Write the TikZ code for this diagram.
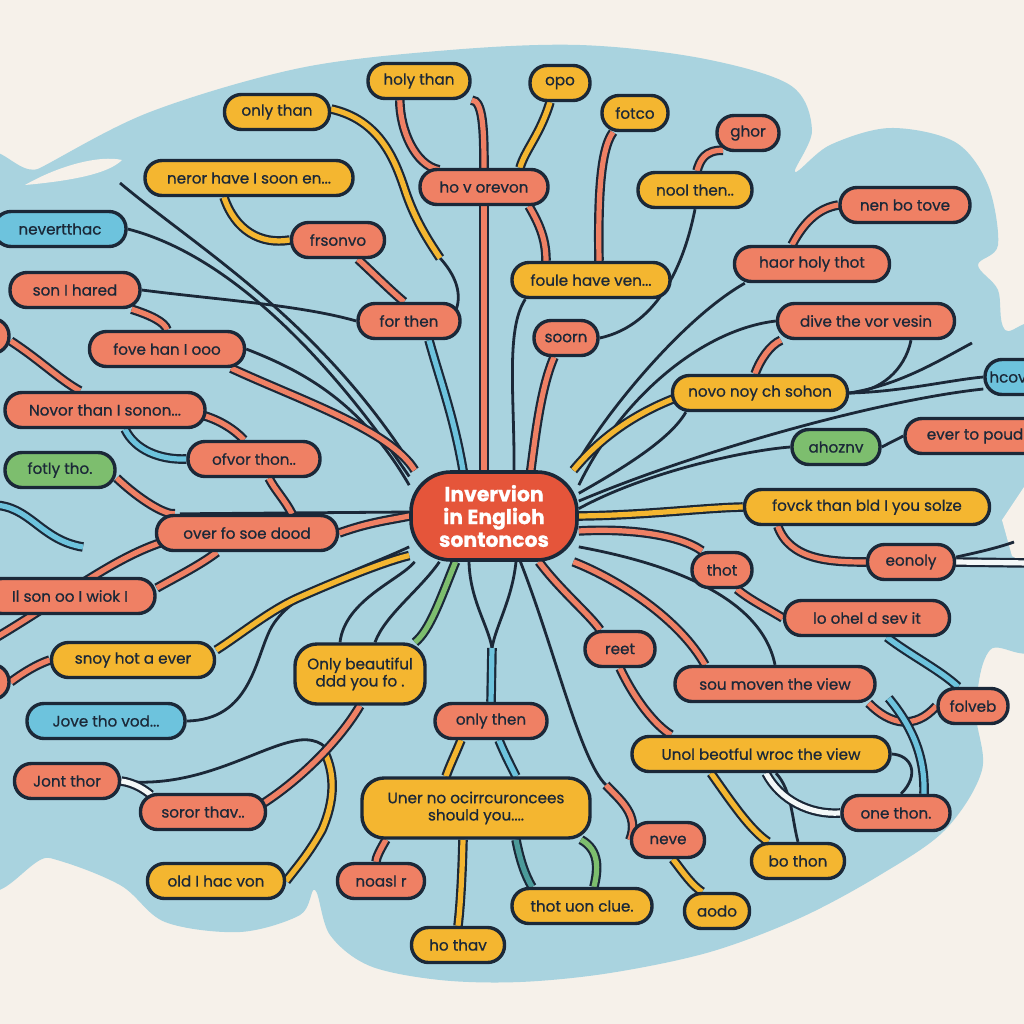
\documentclass[tikz,border=0pt]{standalone}
\usepackage{fontspec}
\setmainfont{Poppins}[FakeBold=0.7]
\usetikzlibrary{calc}
\definecolor{cream}{HTML}{F6F1EA}
\definecolor{blob}{HTML}{A9D3DF}
\definecolor{crl}{HTML}{EF8064}
\definecolor{ylw}{HTML}{F4B630}
\definecolor{blu}{HTML}{6DC3DD}
\definecolor{grn}{HTML}{7DBE6E}
\definecolor{ctr}{HTML}{E5553A}
\definecolor{navy}{HTML}{1B2838}
\definecolor{wht}{HTML}{F4F8F8}
\definecolor{tealb}{HTML}{4B9A9A}
\pgfdeclarelayer{back}
\pgfdeclarelayer{edges}
\pgfsetlayers{back,edges,main}
\newcommand\mnode[6]{\node[pill,fill=#5,minimum width=#4*0.5pt] (#1) at (#2,#3) {#6};}
\begin{document}
\begin{tikzpicture}[x=0.5pt,y=-0.5pt,
  pill/.style={draw=navy,line width=1.7pt,rounded corners=8.5pt,minimum height=17.5pt,
    inner xsep=2pt,inner ysep=1pt,text=navy,font=\fontsize{7.6}{9}\selectfont},
  pilltwo/.style={pill,align=center,rounded corners=11pt,minimum height=30pt,font=\fontsize{7.6}{8.6}\selectfont},
  band/.style={draw=navy,line width=1.1pt,double=#1,double distance=2.6pt},
  wire/.style={draw=navy,line width=1.4pt}]
\useasboundingbox (0,0) rectangle (1024,1024);
\begin{pgfonlayer}{back}
\fill[cream] (0,0) rectangle (1024,1024);
\fill[blob] plot[smooth cycle,tension=0.55] coordinates {(-30,205) (40,168) (150,112) (300,68) (450,50) (580,45) (700,58) (790,85) (812,130) (795,172) (830,145) (890,128) (955,142) (988,185) (998,245) (978,265) (998,290) (1005,330) (1045,345) (1045,630) (990,650) (976,710) (982,770) (945,830) (880,875) (800,918) (710,952) (610,973) (520,982) (440,980) (370,966) (330,935) (315,890) (300,915) (240,932) (165,922) (120,885) (50,858) (-30,845)};
\fill[cream] (25,185) .. controls (60,165) and (100,155) .. (122,160) .. controls (110,172) and (80,180) .. cycle;
\fill[cream] (1030,478) -- (1002,520) -- (1012,556) -- (1030,566) -- cycle;
\end{pgfonlayer}

% centre
\node[draw=navy,line width=1.8pt,fill=ctr,rounded corners=20pt,minimum width=83pt,minimum height=44pt,
  align=center,text=white,font=\bfseries\fontsize{10.2}{11.4}\selectfont,inner sep=1pt] (C) at (494,516) {Invervion\\in Englioh\\sontoncos};

\mnode{holy}{419}{81}{102}{ylw}{holy than}
\mnode{opo}{560}{83}{60}{ylw}{opo}
\mnode{onlythan}{277}{112}{105}{ylw}{only than}
\mnode{fotco}{635}{113}{66}{ylw}{fotco}
\mnode{ghor}{748}{133}{62}{crl}{ghor}
\mnode{neror}{249}{178}{208}{ylw}{neror have I soon en...}
\mnode{hovor}{484}{187}{128}{crl}{ho v orevon}
\mnode{nool}{695}{190}{114}{ylw}{nool then..}
\mnode{nevert}{60}{229}{132}{blu}{nevertthac}
\mnode{frsonvo}{338}{240}{93}{crl}{frsonvo}
\mnode{nenbo}{905}{205}{130}{crl}{nen bo tove}
\mnode{sonI}{75}{290}{130}{crl}{son I hared}
\mnode{forthen}{409}{321}{102}{crl}{for then}
\mnode{foule}{591}{280}{158}{ylw}{foule have ven...}
\mnode{haor}{812}{264}{155}{crl}{haor holy thot}
\mnode{soorn}{566}{338}{64}{crl}{soorn}
\mnode{diva}{866}{321}{177}{crl}{dive the vor vesin}
\mnode{fove}{167}{349}{155}{crl}{fove han I ooo}
\mnode{novo}{760}{393}{175}{ylw}{novo noy ch sohon}
\mnode{hcov}{1030}{377}{90}{blu}{hcov\hspace*{22pt}}
\mnode{novor}{105}{410}{200}{crl}{Novor than I sonon...}
\mnode{ofvor}{254}{459}{132}{crl}{ofvor thon..}
\mnode{ahoz}{836}{447}{88}{grn}{ahoznv}
\mnode{ever}{975}{436}{140}{crl}{ever to poud}
\mnode{fotly}{60}{470}{110}{grn}{fotly tho.}
\mnode{fovck}{867}{507}{245}{ylw}{fovck than bld I you solze}
\mnode{overfo}{247}{533}{181}{crl}{over fo soe dood}
\mnode{thot}{722}{570}{60}{crl}{thot}
\mnode{eonoly}{911}{562}{87}{crl}{eonoly}
\mnode{ilson}{70}{596}{170}{crl}{Il son oo I wiok I}
\mnode{lodhel}{867}{618}{165}{crl}{lo ohel d sev it}
\mnode{snoy}{133}{660}{163}{ylw}{snoy hot a ever}
\mnode{reet}{620}{649}{70}{crl}{reet}
\mnode{jove}{106}{721}{158}{blu}{Jove tho vod...}
\mnode{onlythen}{491}{721}{112}{crl}{only then}
\mnode{sou}{775}{684}{200}{crl}{sou moven the view}
\mnode{folveb}{973}{706}{70}{crl}{folveb}
\mnode{unol}{761}{754}{258}{ylw}{Unol beotful wroc the view}
\mnode{jont}{67}{781}{105}{crl}{Jont thor}
\mnode{soror}{203}{812}{125}{crl}{soror thav..}
\mnode{onethon}{896}{813}{108}{crl}{one thon.}
\mnode{neve}{668}{840}{73}{crl}{neve}
\mnode{bothon}{798}{861}{93}{ylw}{bo thon}
\mnode{oldI}{216}{881}{137}{ylw}{old I hac von}
\mnode{noasl}{381}{881}{87}{crl}{noasl r}
\mnode{thotuon}{582}{906}{140}{ylw}{thot uon clue.}
\mnode{aodo}{717}{911}{65}{ylw}{aodo}
\mnode{hothav}{458}{945}{93}{ylw}{ho thav}
\mnode{pa}{-8}{336}{34}{crl}{}
\mnode{pb}{-8}{682}{34}{crl}{}
\node[pilltwo,fill=ylw,minimum width=65pt] (onlyb) at (360,674) {Only beautiful\\ddd you fo .};
\node[pilltwo,fill=ylw,minimum width=114pt] (uner) at (476,808) {Uner no ocirrcuroncees\\should you....};

\coordinate (fr1) at (972,343);
\coordinate (fr2) at (1030,563);
\coordinate (fr3) at (1014,542);
\coordinate (fr4) at (120,183);
\coordinate (fl1) at (-8,640);
\coordinate (fl2) at (-8,505);
\coordinate (fl3) at (83,547);
\coordinate (yj) at (492,648);
\coordinate (ybr) at (325,753);
\coordinate (ge) at (440,258);
\coordinate (nj) at (606,785);

\begin{pgfonlayer}{edges}
% navy wires
\draw[wire] (nool.south) .. controls (685,260) and (660,325) .. (soorn.east);
\draw[wire] ($(foule.south west)+(15,0)$) .. controls (505,330) and (515,400) .. ($(C.north)+(20,6)$);
\draw[wire] ($(haor.south west)+(12,0)$) .. controls (680,320) and (600,420) .. (C.30);
\draw[wire] (diva.west) .. controls (700,330) and (620,400) .. (C.20);
\draw[wire] ($(novo.south west)+(15,0)$) .. controls (670,440) and (620,470) .. (C.15);
\draw[wire] ($(diva.south)+(45,0)$) .. controls (905,370) and (880,392) .. (novo.east);
\draw[wire] (novo.east) .. controls (900,392) and (950,380) .. (hcov.west);
\draw[wire] (novo.east) .. controls (900,385) and (940,360) .. (fr1);
\draw[wire] (C.10) .. controls (700,450) and (880,400) .. ($(hcov.west)+(0,12)$);
\draw[wire] (C.5) .. controls (650,470) and (750,450) .. (ahoz.west);
\draw[wire] (ahoz.east) -- (ever.west);
\draw[wire] ($(eonoly.east)+(0,-5)$) .. controls (980,552) and (1000,547) .. (fr3);
\draw[wire] (sonI.east) .. controls (220,300) and (300,305) .. (forthen.west);
\draw[wire] (nevert.east) .. controls (230,255) and (330,360) .. (C.155);
\draw[wire] (fr4) .. controls (200,250) and (320,320) .. (C.150);
\draw[wire] (fove.east) .. controls (300,370) and (360,400) .. (C.160);
\draw[wire] ($(overfo.north west)+(25,0)$) -- ($(C.west)+(0,-4)$);
\draw[wire] (jove.east) .. controls (250,720) and (255,660) .. (270,630) .. controls (290,590) and (360,570) .. (C.-160);
\draw[wire] (C.-140) .. controls (420,590) and (385,615) .. ($(onlyb.north)+(15,0)$);
\draw[wire] (C.-150) .. controls (400,580) and (345,600) .. ($(onlyb.north)+(-20,0)$);
\draw[wire] ($(C.south)+(-25,0)$) .. controls (470,600) and (488,625) .. (yj);
\draw[wire] ($(C.south)+(22,0)$) .. controls (512,600) and (496,625) .. (yj);
\draw[wire] (C.-60) .. controls (555,650) and (580,760) .. (nj);
\draw[wire] (C.-20) .. controls (650,560) and (760,590) .. (sou.north);
\draw[wire] (jont.east) .. controls (200,790) and (260,745) .. (300,740) .. controls (318,738) and (330,748) .. (ybr);
\draw[wire] (unol.east) .. controls (912,755) and (920,775) .. ($(onethon.north)+(5,0)$);
\draw[wire] ($(unol.south)+(15,0)$) .. controls (792,790) and (792,820) .. (bothon.north);
\draw[wire] (ge) .. controls (460,280) and (462,300) .. ($(forthen.east)+(-8,-6)$);

% bands
\draw[band=crl] (holy.-135) .. controls (400,130) and (415,165) .. ($(hovor.north)+(-45,2)$);
\draw[band=crl] (holy.-20) .. controls (483,100) and (484,130) .. (hovor.north);
\draw[band=crl] (hovor.south) -- ($(hovor.south |- C.north)+(0,8)$);
\draw[band=ylw] ($(opo.south)+(-10,0)$) .. controls (540,135) and (525,150) .. ($(hovor.north)+(36,0)$);
\draw[band=crl] ($(hovor.south)+(45,0)$) .. controls (540,225) and (546,240) .. ($(foule.north)+(-45,0)$);
\draw[band=crl] ($(fotco.south)+(-22,0)$) .. controls (600,150) and (598,200) .. ($(foule.north)+(8,0)$);
\draw[band=crl] ($(ghor.south)+(-25,-2)$) .. controls (705,150) and (700,160) .. ($(nool.north)+(2,0)$);
\draw[band=crl] ($(soorn.south)+(-12,0)$) .. controls (540,390) and (535,440) .. ($(C.north)+(36,6)$);
\draw[band=crl] ($(haor.north)+(-20,0)$) .. controls (805,220) and (820,208) .. (nenbo.west);
\draw[band=crl] ($(diva.south)+(-85,0)$) .. controls (770,345) and (760,360) .. ($(novo.north)+(-5,0)$);
\draw[band=ylw] ($(novo.west)+(2,6)$) .. controls (620,420) and (590,450) .. (C.30);
\draw[band=crl] ($(fovck.south west)+(35,0)$) .. controls (790,560) and (830,562) .. (eonoly.west);
\draw[band=ylw] (C.east) .. controls (650,515) and (700,508) .. (fovck.west);
\draw[band=wht] (eonoly.east) -- (fr2);
\draw[band=crl] (C.-10) .. controls (630,528) and (680,535) .. ($(thot.north)+(-20,0)$);
\draw[band=crl] ($(thot.south)+(15,0)$) .. controls (750,600) and (770,610) .. (lodhel.west);
\draw[band=crl] ($(C.south)+(45,0)$) .. controls (560,590) and (590,615) .. ($(reet.north)+(-20,0)$);
\draw[band=crl] (C.-30) .. controls (620,580) and (680,620) .. ($(sou.north)+(-70,0)$);
\draw[band=crl] (reet.south) .. controls (635,700) and (655,725) .. ($(unol.north)+(-90,0)$);
\draw[band=ylw] ($(unol.south)+(-50,0)$) .. controls (730,800) and (750,830) .. ($(bothon.north)+(-30,0)$);
\draw[band=crl] (nj) .. controls (620,800) and (640,815) .. (neve.west);
\draw[band=ylw] ($(neve.south)+(5,0)$) .. controls (685,875) and (692,885) .. ($(aodo.north)+(-15,0)$);
\draw[band=crl] ($(sou.south east)+(-8,0)$) .. controls (890,725) and (915,730) .. (folveb.west);
\draw[band=blu] ($(lodhel.south)+(20,0)$) .. controls (910,655) and (940,670) .. ($(folveb.north)+(-15,0)$);
\draw[band=blu] ($(sou.south east)+(12,-5)$) .. controls (915,730) and (925,760) .. ($(onethon.north)+(28,0)$);
\draw[band=wht] ($(unol.south)+(5,0)$) .. controls (780,800) and (810,815) .. (onethon.west);
\draw[band=ylw] ($(onlythen.south)+(-30,0)$) .. controls (455,755) and (450,765) .. ($(uner.north)+(-30,0)$);
\draw[band=blu] ($(onlythen.south)+(8,0)$) .. controls (505,755) and (512,768) .. ($(uner.north)+(40,0)$);
\draw[band=blu] (yj) -- (onlythen.north);
\draw[band=crl] ($(uner.south)+(-90,0)$) .. controls (380,850) and (376,858) .. ($(noasl.north)+(-5,0)$);
\draw[band=ylw] ($(uner.south)+(-13,0)$) .. controls (462,880) and (460,910) .. (hothav.north);
\draw[band=grn] ($(uner.south)+(105,0)$) .. controls (600,850) and (598,870) .. ($(thotuon.north)+(12,0)$);
\draw[band=tealb] ($(uner.south)+(40,0)$) .. controls (520,860) and (525,875) .. ($(thotuon.north)+(-50,0)$);
\draw[band=grn] (C.-130) .. controls (440,600) and (430,630) .. ($(onlyb.north)+(55,0)$);
\draw[band=ylw] ($(snoy.east)+(0,-10)$) .. controls (240,635) and (270,610) .. (300,597) .. controls (350,575) and (390,560) .. (C.-155);
\draw[band=ylw] (ybr) .. controls (335,775) and (335,800) .. (322,830) .. controls (308,855) and (296,868) .. (oldI.east);
\draw[band=crl] (onlyb.south) .. controls (340,740) and (300,780) .. ($(soror.east)+(-5,-8)$);
\draw[band=wht] (jont.east) .. controls (135,783) and (145,790) .. ($(soror.north west)+(12,2)$);
\draw[band=crl] (snoy.west) .. controls (35,665) and (20,675) .. (pb.east);
\draw[band=crl] ($(overfo.west)+(5,10)$) .. controls (110,560) and (60,600) .. (fl1);
\draw[band=crl] ($(ilson.east)+(0,-8)$) .. controls (180,575) and (200,565) .. ($(overfo.south)+(-30,0)$);
\draw[band=crl] ($(fotly.east)+(0,8)$) .. controls (140,500) and (165,515) .. ($(overfo.north west)+(20,0)$);
\draw[band=crl] (overfo.east) .. controls (370,522) and (390,520) .. (C.west);
\draw[band=crl] ($(ofvor.south)+(15,0)$) .. controls (275,490) and (285,500) .. ($(overfo.north)+(45,0)$);
\draw[band=crl] ($(novor.east)+(-5,5)$) .. controls (220,420) and (235,430) .. ($(ofvor.north)+(-10,0)$);
\draw[band=blu] ($(novor.south)+(20,0)$) .. controls (135,450) and (160,460) .. (ofvor.west);
\draw[band=crl] ($(pa.east)+(0,5)$) .. controls (40,360) and (60,380) .. ($(novor.north)+(-25,0)$);
\draw[band=crl] ($(sonI.south east)+(-10,0)$) .. controls (150,315) and (165,322) .. (fove.north);
\draw[band=crl] ($(fove.south east)+(-15,0)$) .. controls (300,400) and (390,430) .. (C.150);
\draw[band=blu] ($(forthen.south)+(20,0)$) .. controls (440,380) and (455,420) .. ($(C.north)+(-30,6)$);
\draw[band=crl] ($(frsonvo.south)+(20,0)$) .. controls (375,275) and (390,290) .. ($(forthen.north)+(-5,0)$);
\draw[band=ylw] ($(neror.south)+(-25,0)$) .. controls (235,230) and (260,245) .. (frsonvo.west);
\draw[band=ylw] ($(onlythan.east)+(0,-3)$) .. controls (380,120) and (395,160) .. (405,190) .. controls (415,220) and (428,240) .. (ge);
\draw[band=blu] (fl2) .. controls (30,505) and (40,540) .. (fl3);
\end{pgfonlayer}
\end{tikzpicture}
\end{document}
